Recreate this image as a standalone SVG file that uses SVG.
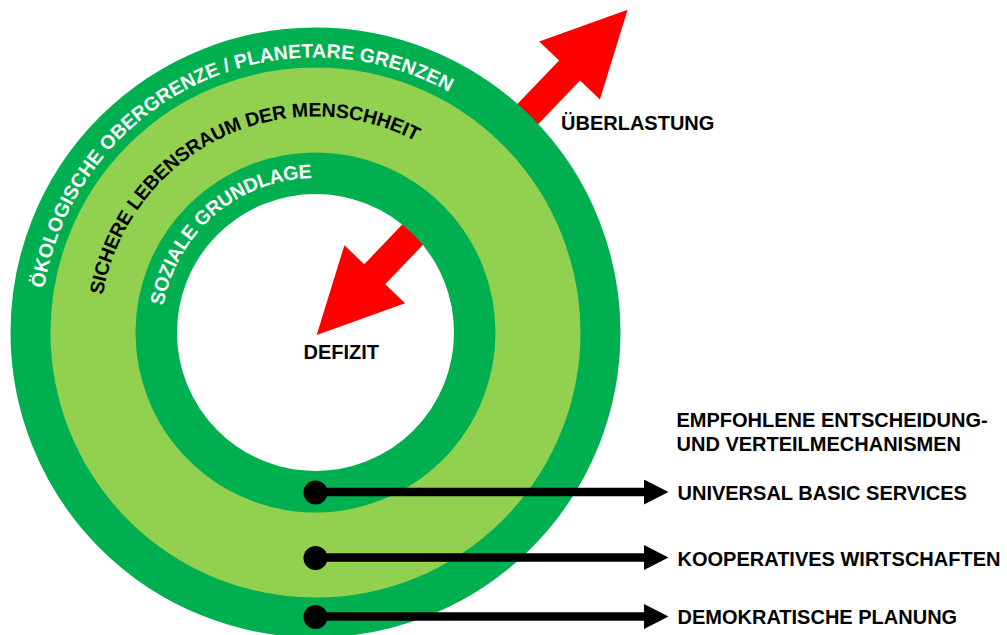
<svg xmlns="http://www.w3.org/2000/svg" xmlns:xlink="http://www.w3.org/1999/xlink" width="1007" height="635" viewBox="0 0 1007 635">
  <style>
    .lbl { font-family: "Liberation Sans", Arial, sans-serif; font-weight: bold; font-size: 20px; fill: #000000; }
    .arc { font-family: "Liberation Sans", Arial, sans-serif; font-weight: bold; font-size: 19.5px; }
    .white { fill: #FFFFFF; }
    .black { fill: #000000; }
    .dark { fill: none; stroke: #00B050; }
    .light { fill: none; stroke: #92D050; }
    .conn { stroke: #000000; stroke-width: 8.5; fill: none; marker-end: url(#head); }
    .dot { fill: #000000; }
  </style>
  <defs>
    <marker id="head" markerUnits="userSpaceOnUse" viewBox="0 0 25 25" refX="1" refY="12.5" markerWidth="25" markerHeight="25" orient="auto">
      <path d="M0,0 L24.5,12.5 L0,25 Z" fill="#000000"/>
    </marker>
    <path id="p1" d="M 44.04,288.53 A 275,275 0 0,1 553.66,195.0"/>
    <path id="p2" d="M 102.78,294.99 A 216,216 0 0,1 502.56,224.5"/>
    <path id="p3" d="M 163.35,305.67 A 154.5,154.5 0 0,1 449.3,255.25"/>
  </defs>

  <g id="arrow-red">
    <polygon transform="translate(316.7,335) rotate(-46.3)" fill="#FF0000"
      points="0,0 84,-42 84,-14.5 366,-14.5 366,-42 450,0 366,42 366,14.5 84,14.5 84,42"/>
  </g>

  <g id="ring-safe-space">
    <circle class="light" cx="315.5" cy="332.5" r="222.5" stroke-width="89"/>
    <text class="arc black"><textPath xlink:href="#p2" href="#p2" textLength="406" lengthAdjust="spacing">SICHERE LEBENSRAUM DER MENSCHHEIT</textPath></text>
  </g>

  <g id="ring-ecological-ceiling">
    <circle class="dark" cx="315.5" cy="332.5" r="285" stroke-width="40"/>
    <text class="arc white"><textPath xlink:href="#p1" href="#p1" textLength="527" lengthAdjust="spacing">ÖKOLOGISCHE OBERGRENZE / PLANETARE GRENZEN</textPath></text>
  </g>

  <g id="ring-social-foundation">
    <circle class="dark" cx="315.5" cy="332.5" r="159.25" stroke-width="41.5"/>
    <text class="arc white"><textPath xlink:href="#p3" href="#p3" textLength="212" lengthAdjust="spacing">SOZIALE GRUNDLAGE</textPath></text>
  </g>

  <g id="label-overload">
    <text class="lbl" x="561" y="129.5">ÜBERLASTUNG</text>
  </g>
  <g id="label-deficit">
    <text class="lbl" x="303.5" y="359.3">DEFIZIT</text>
  </g>

  <g id="label-heading">
    <text class="lbl" x="676.5" y="427.3">EMPFOHLENE ENTSCHEIDUNG-</text>
    <text class="lbl" x="676.5" y="450.5">UND VERTEILMECHANISMEN</text>
  </g>

  <g id="connectors">
    <line class="conn" x1="315.5" y1="492" x2="645" y2="492"/>
    <line class="conn" x1="315.5" y1="557.5" x2="645" y2="557.5"/>
    <line class="conn" x1="315.5" y1="616.5" x2="645" y2="616.5"/>
    <circle class="dot" cx="315.5" cy="492.5" r="12"/>
    <circle class="dot" cx="315.5" cy="558" r="12"/>
    <circle class="dot" cx="315.5" cy="617" r="12"/>
  </g>

  <g id="node-ubs">
    <text class="lbl" x="677.5" y="500">UNIVERSAL BASIC SERVICES</text>
  </g>
  <g id="node-coop">
    <text class="lbl" x="677.5" y="565.5">KOOPERATIVES WIRTSCHAFTEN</text>
  </g>
  <g id="node-planning">
    <text class="lbl" x="677.5" y="624.3">DEMOKRATISCHE PLANUNG</text>
  </g>
</svg>
